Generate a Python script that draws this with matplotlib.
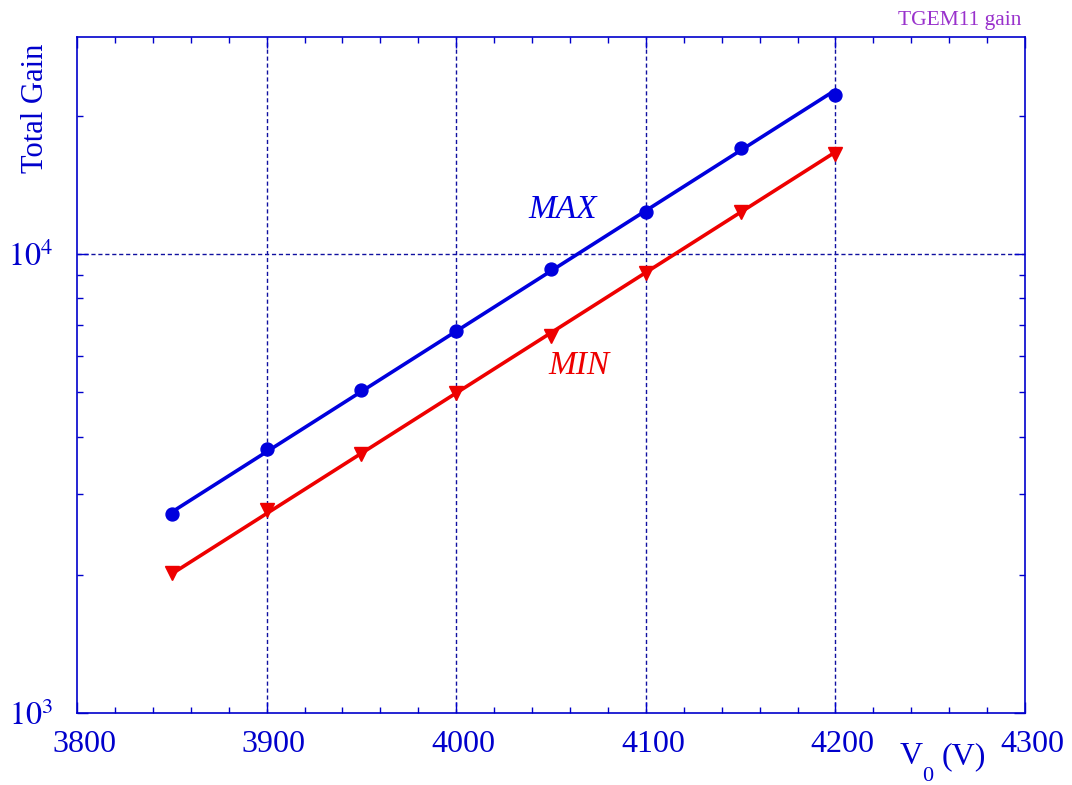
import numpy as np
import matplotlib
matplotlib.use('Agg')
import matplotlib.pyplot as plt
import matplotlib.transforms as mtransforms
from matplotlib.ticker import LogLocator, MultipleLocator, FuncFormatter

plt.rcParams['font.family'] = ['Liberation Serif', 'DejaVu Serif']
plt.rcParams['mathtext.fontset'] = 'stix'

# data
voltage = [3850, 3900, 3950, 4000, 4050, 4100, 4150, 4200]
gain_max = [2714, 3760, 5054, 6790, 9267, 12350, 17020, 22190]
gain_min = [2019, 2767, 3664, 4980, 6622, 9089, 12350, 16520]
# fitted lines (end points)
fit_v = [3850, 4200]
fit_max = [2740, 22750]
fit_min = [2010, 16680]

blue = '#0000dd'
red = '#ee0000'
axcol = '#0000cc'

fig = plt.figure(figsize=(10.72, 7.85), dpi=100)
ax = fig.add_axes([0.0718, 0.0917, 0.8844, 0.8612])

ax.set_yscale('log')
ax.set_xlim(3800, 4300)
ax.set_ylim(1e3, 2.97e4)

# grid
for gx in [3900, 4000, 4100, 4200]:
    ax.axvline(gx, color='#1010a0', lw=1.0, ls=(0, (3, 2)), zorder=1)
ax.axhline(1e4, color='#1010a0', lw=1.0, ls=(0, (3, 2)), zorder=1)

# fits and points
ax.plot(fit_v, fit_max, color=blue, lw=2.6, zorder=3)
ax.plot(fit_v, fit_min, color=red, lw=2.6, zorder=3)
ax.plot(voltage, gain_max, 'o', color=blue, ms=9.3, zorder=4)
ax.plot(voltage, gain_min, 'v', color=red, ms=10.5, zorder=4)

ax.text(4056, 12480, 'MAX', color=blue, fontsize=24, style='italic',
        ha='center', va='center')
ax.text(4065, 5703, 'MIN', color=red, fontsize=24, style='italic',
        ha='center', va='center')

# axes styling
for side in ['top', 'right', 'left', 'bottom']:
    ax.spines[side].set_color(axcol)
    ax.spines[side].set_linewidth(1.2)
ax.spines['left'].set_linestyle((0, (4, 1)))
ax.spines['bottom'].set_linestyle((0, (4, 1)))

ax.xaxis.set_major_locator(MultipleLocator(100))
ax.xaxis.set_minor_locator(MultipleLocator(20))
ax.yaxis.set_major_locator(LogLocator(base=10))
ax.yaxis.set_minor_locator(LogLocator(base=10, subs=np.arange(2, 10)))
ax.yaxis.set_minor_formatter(plt.NullFormatter())
ax.yaxis.set_major_formatter(FuncFormatter(lambda v, p: r'$10^{%d}$' % round(np.log10(v))))

ax.tick_params(which='both', direction='in', top=True, right=True,
               color=axcol, labelcolor=axcol, labelsize=23, width=1.0)
ax.tick_params(which='major', length=8)
ax.tick_params(which='minor', length=4)
ax.tick_params(axis='x', pad=12)
ax.tick_params(axis='y', pad=17)

# x tick labels sit a little to the right of their ticks
shift = mtransforms.ScaledTranslation(7 / 100, 0, fig.dpi_scale_trans)
for lab in ax.get_xticklabels():
    lab.set_transform(lab.get_transform() + shift)

# axis titles
fig.text(0.033, 0.945, 'Total Gain', rotation=90, color=axcol, fontsize=22,
         ha='center', va='top')
fig.text(900 / 1072, 1 - 764 / 785, 'V', color=axcol, fontsize=23,
         ha='left', va='baseline')
fig.text(922 / 1072, 1 - 781 / 785, '0', color=axcol, fontsize=16,
         ha='left', va='baseline')
fig.text(986 / 1072, 1 - 764 / 785, '(V)', color=axcol, fontsize=23,
         ha='right', va='baseline')
fig.text(0.953, 0.974, 'TGEM11 gain', color='#9932cc', fontsize=15.5,
         ha='right', va='center')

fig.savefig('out.png', dpi=100)
